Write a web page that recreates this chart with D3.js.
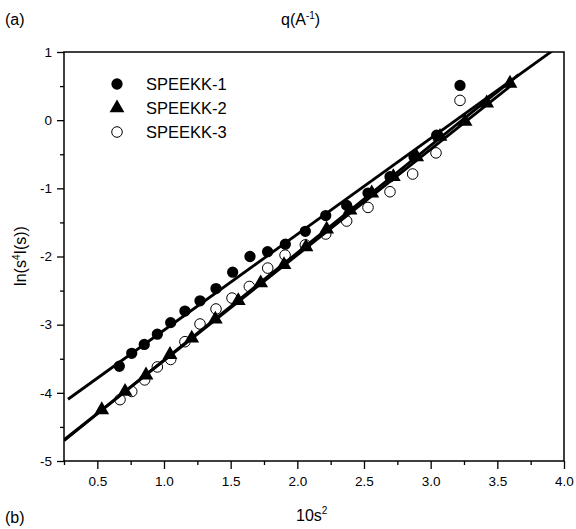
<!DOCTYPE html>
<html>
<head>
<meta charset="utf-8">
<script src="https://cdn.jsdelivr.net/npm/d3@7"></script>
<style>
  html, body { margin: 0; padding: 0; background: #fff; }
  svg { display: block; font-family: "Liberation Sans", Arial, sans-serif; }
</style>
</head>
<body>
<svg id="chart" width="576" height="529"></svg>
<script>
// Guinier–Porod style plot: ln(s^4 I(s)) against 10 s^2 for three membranes
const seriesNames = ["SPEEKK-1", "SPEEKK-2", "SPEEKK-3"];

const speekk1X = [0.665, 0.758, 0.852, 0.95, 1.05, 1.157, 1.27, 1.39, 1.515, 1.645, 1.777, 1.91, 2.06, 2.213, 2.37, 2.53, 2.695, 2.875, 3.045, 3.22];
const speekk1Y = [-3.61, -3.42, -3.29, -3.14, -2.97, -2.80, -2.65, -2.47, -2.23, -2.00, -1.93, -1.82, -1.63, -1.40, -1.25, -1.07, -0.83, -0.535, -0.22, 0.51];

const speekk2X = [0.533, 0.708, 0.865, 1.045, 1.208, 1.385, 1.557, 1.725, 1.9, 2.065, 2.22, 2.395, 2.558, 2.72, 2.895, 3.07, 3.258, 3.42, 3.595];
const speekk2Y = [-4.25, -3.98, -3.74, -3.44, -3.20, -2.92, -2.65, -2.39, -2.12, -1.86, -1.60, -1.32, -1.07, -0.83, -0.54, -0.24, -0.02, 0.25, 0.54];

const speekk3X = [0.67, 0.758, 0.855, 0.95, 1.05, 1.157, 1.27, 1.39, 1.51, 1.64, 1.778, 1.908, 2.06, 2.213, 2.37, 2.53, 2.695, 2.865, 3.04, 3.22];
const speekk3Y = [-4.10, -3.98, -3.81, -3.62, -3.51, -3.25, -2.99, -2.77, -2.61, -2.44, -2.17, -1.98, -1.83, -1.67, -1.48, -1.28, -1.05, -0.79, -0.48, 0.29];

// Linear fits y = slope * x + intercept, drawn over [fitStart, fitEnd]
const fitSlopes = [1.407, 1.574, 1.55];
const fitIntercepts = [-4.488, -5.0935, -5.0775];
const fitStart = [0.28, 0.25, 0.25];
const fitEnd = [4.0, 3.66, 3.6];

const xMajorTicks = [0.5, 1.0, 1.5, 2.0, 2.5, 3.0, 3.5, 4.0];
const xMinorTicks = [0.25, 0.75, 1.25, 1.75, 2.25, 2.75, 3.25, 3.75];
const yMajorTicks = [-5, -4, -3, -2, -1, 0, 1];
const yMinorTicks = [-4.5, -3.5, -2.5, -1.5, -0.5, 0.5];

const W = 576, H = 529;
const margin = { top: 52, right: 12, bottom: 68, left: 64 };
const iw = W - margin.left - margin.right;
const ih = H - margin.top - margin.bottom;

const svg = d3.select("#chart");
const x = d3.scaleLinear().domain([0.25, 4.0]).range([margin.left, margin.left + iw]);
const y = d3.scaleLinear().domain([-5, 1]).range([margin.top + ih, margin.top]);

svg.append("defs").append("clipPath").attr("id", "plotClip")
  .append("rect").attr("x", margin.left).attr("y", margin.top).attr("width", iw).attr("height", ih);

// Bottom axis: major ticks with labels, minor ticks without
const xAxisMajor = d3.axisBottom(x).tickValues(xMajorTicks).tickFormat(d => d.toFixed(1)).tickSize(8).tickPadding(7);
const xAxisMinor = d3.axisBottom(x).tickValues(xMinorTicks).tickFormat("").tickSize(4);
const gx = svg.append("g").attr("transform", `translate(0,${margin.top + ih})`);
gx.call(xAxisMajor);
gx.append("g").call(xAxisMinor);

// Left axis, labels with a plain hyphen for negatives
const yAxisMajor = d3.axisLeft(y).tickValues(yMajorTicks).tickFormat(d => String(d)).tickSize(7).tickPadding(5);
const yAxisMinor = d3.axisLeft(y).tickValues(yMinorTicks).tickFormat("").tickSize(4);
const gy = svg.append("g").attr("transform", `translate(${margin.left},0)`);
gy.call(yAxisMajor);
gy.append("g").call(yAxisMinor);

svg.selectAll(".domain").remove();
svg.selectAll(".tick line").attr("stroke", "#000").attr("stroke-width", 1.3);
svg.selectAll(".tick text").attr("fill", "#000").style("font-size", "13.5px")
  .style("font-family", "'Liberation Sans', Arial, sans-serif");

// Frame around the plotting area
svg.append("rect")
  .attr("x", margin.left).attr("y", margin.top).attr("width", iw).attr("height", ih)
  .attr("fill", "none").attr("stroke", "#000").attr("stroke-width", 1.5);

// Fit lines
const plot = svg.append("g").attr("clip-path", "url(#plotClip)");
const line = d3.line().x(d => x(d[0])).y(d => y(d[1]));
fitSlopes.forEach((m, i) => {
  const pts = [fitStart[i], fitEnd[i]].map(v => [v, m * v + fitIntercepts[i]]);
  plot.append("path").datum(pts).attr("d", line)
    .attr("fill", "none").attr("stroke", "#000").attr("stroke-width", 2.8);
});

// Markers
const zip = (xs, ys) => xs.map((v, i) => [v, ys[i]]);
const circleSym = d3.symbol().type(d3.symbolCircle).size(100);
const triSym = d3.symbol().type(d3.symbolTriangle).size(95);
const openSym = d3.symbol().type(d3.symbolCircle).size(88);

plot.selectAll(".s3").data(zip(speekk3X, speekk3Y)).join("path")
  .attr("class", "s3").attr("d", openSym)
  .attr("transform", d => `translate(${x(d[0])},${y(d[1])})`)
  .attr("fill", "none").attr("stroke", "#000").attr("stroke-width", 1);

plot.selectAll(".s2").data(zip(speekk2X, speekk2Y)).join("path")
  .attr("class", "s2").attr("d", triSym)
  .attr("transform", d => `translate(${x(d[0])},${y(d[1])})`)
  .attr("fill", "#000");

plot.selectAll(".s1").data(zip(speekk1X, speekk1Y)).join("path")
  .attr("class", "s1").attr("d", circleSym)
  .attr("transform", d => `translate(${x(d[0])},${y(d[1])})`)
  .attr("fill", "#000");

// Legend
const legend = svg.append("g");
const legendSyms = [
  { sym: circleSym, fill: "#000", stroke: "none" },
  { sym: triSym, fill: "#000", stroke: "none" },
  { sym: openSym, fill: "none", stroke: "#000" }
];
seriesNames.forEach((name, i) => {
  const cy = 84 + i * 24;
  legend.append("path").attr("d", legendSyms[i].sym)
    .attr("transform", `translate(117,${cy})`)
    .attr("fill", legendSyms[i].fill).attr("stroke", legendSyms[i].stroke).attr("stroke-width", 1);
  legend.append("text").attr("x", 146).attr("y", cy + 6)
    .style("font-size", "16.5px").attr("fill", "#000").text(name);
});

// Titles and axis labels
const topLabel = svg.append("text").attr("x", 281).attr("y", 25).style("font-size", "16px");
topLabel.append("tspan").text("q(A");
topLabel.append("tspan").attr("dy", -6).style("font-size", "10px").text("-1");
topLabel.append("tspan").attr("dy", 6).text(")");

svg.append("text").attr("x", 5).attr("y", 25).style("font-size", "16px").text("(a)");
svg.append("text").attr("x", 5).attr("y", 523).style("font-size", "16px").text("(b)");

const xLabel = svg.append("text").attr("x", 296).attr("y", 521).style("font-size", "16px");
xLabel.append("tspan").text("10s");
xLabel.append("tspan").attr("dy", -7).style("font-size", "10px").text("2");

const yLabel = svg.append("text")
  .attr("transform", "translate(26,256) rotate(-90)")
  .attr("text-anchor", "middle").style("font-size", "16px");
yLabel.append("tspan").text("ln(s");
yLabel.append("tspan").attr("dy", -6).style("font-size", "10px").text("4");
yLabel.append("tspan").attr("dy", 6).text("I(s))");
</script>
</body>
</html>
